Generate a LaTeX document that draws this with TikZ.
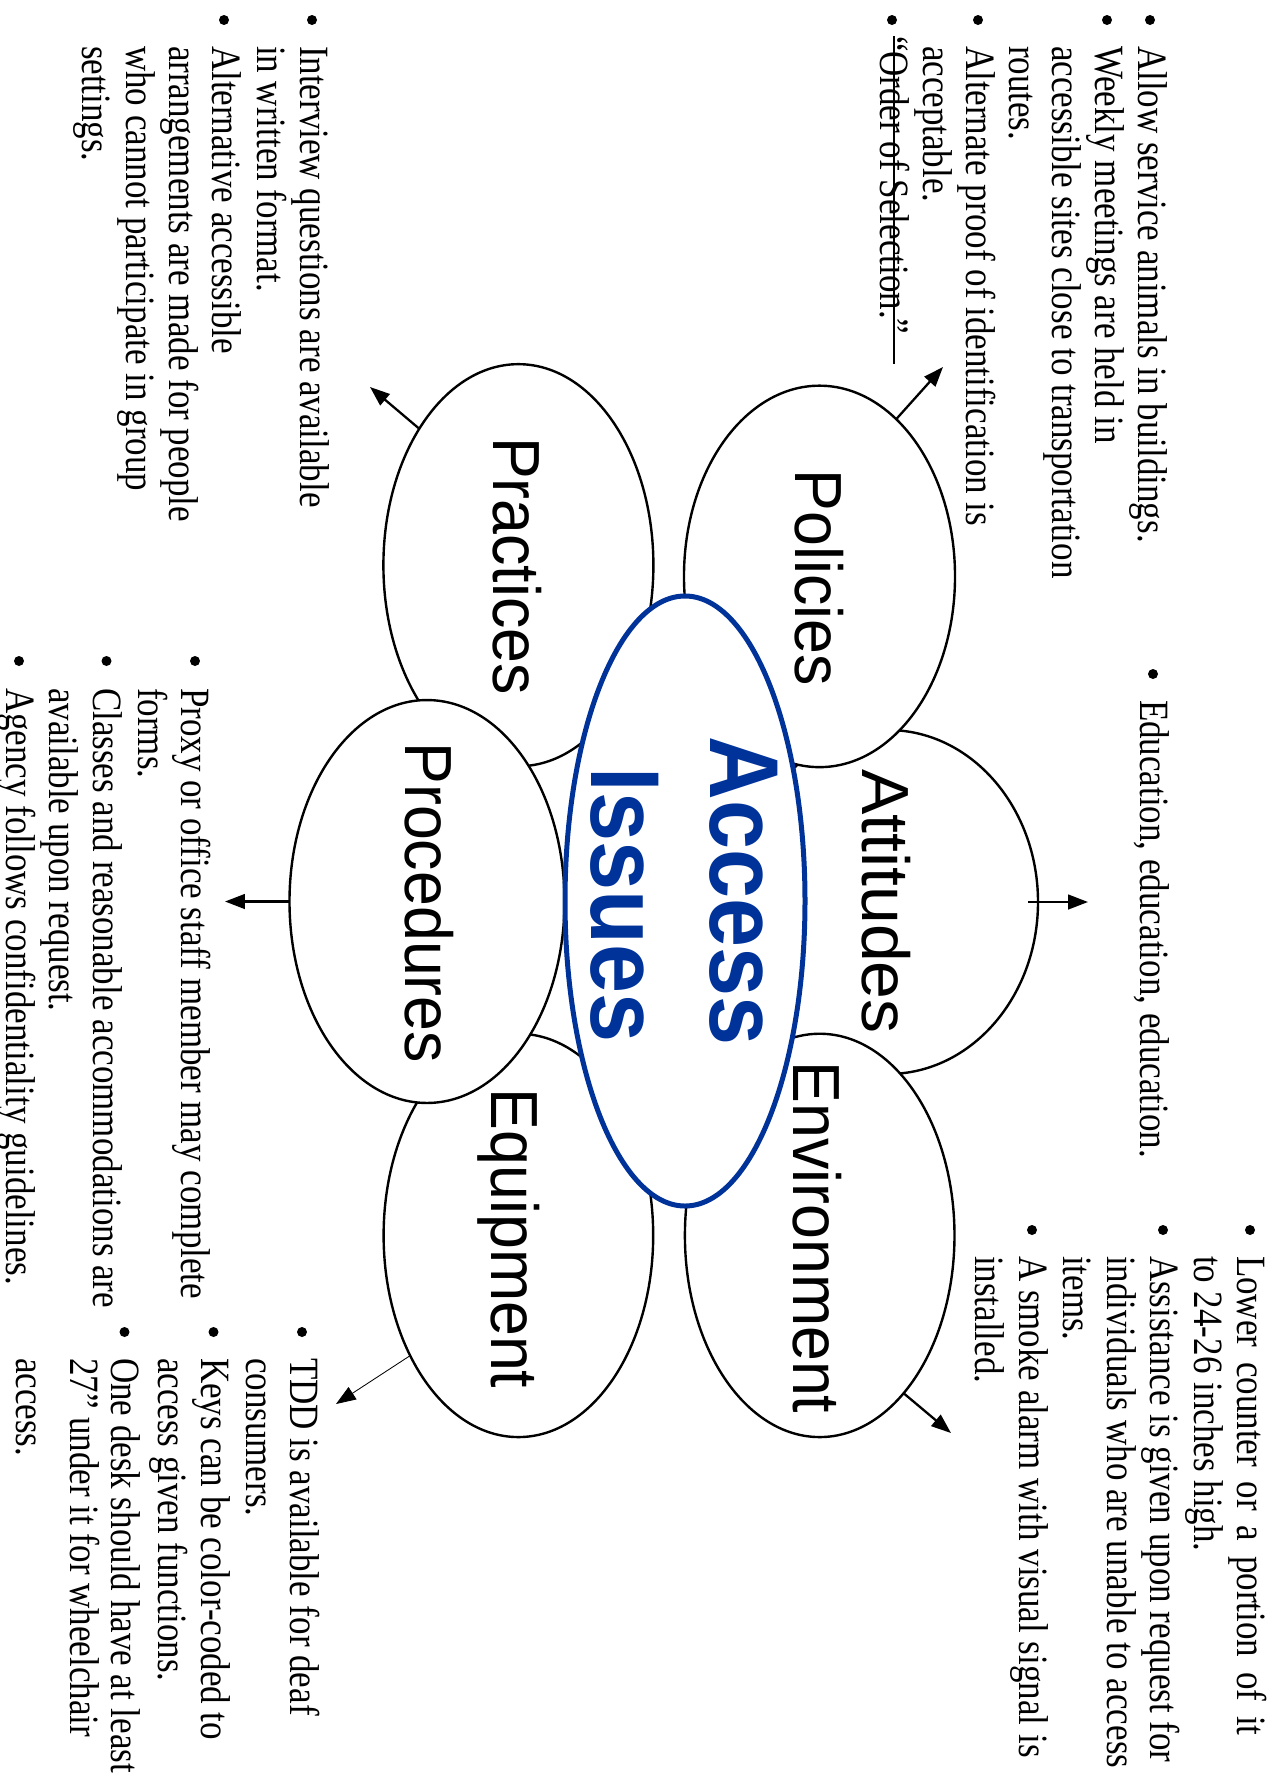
\documentclass[tikz,border=0pt]{standalone}
\usepackage{fontspec}
\setmainfont{Liberation Serif}
\newfontfamily\arialf{Liberation Sans}
\usepackage{graphicx}
\usetikzlibrary{shapes.geometric,arrows.meta}
\definecolor{accblue}{RGB}{0,51,153}
\newcommand\tx[1]{\scalebox{0.84}[1]{#1}}
\newcommand\jx[2]{\scalebox{0.84}[1]{\makebox[#1][s]{#2}}}
\newcommand\lx[1]{\scalebox{0.94}[1]{#1}}
\newcommand\ax[1]{\scalebox{0.9}[1]{#1}}
\begin{document}
\begin{tikzpicture}[x=0.48pt,y=-0.48pt,
  ell/.style={ellipse, draw=black, line width=1.15pt, fill=white, inner sep=0pt, outer sep=0pt},
  tl/.style={rotate=-90, anchor=base west, inner sep=0pt, outer sep=0pt, font=\fontsize{20}{24}\selectfont},
  lab/.style={rotate=-90, anchor=base, inner sep=0pt, outer sep=0pt, font=\arialf\fontsize{32}{38}\selectfont},
  acc/.style={rotate=-90, anchor=base, inner sep=0pt, outer sep=0pt, text=accblue, font=\arialf\bfseries\fontsize{47}{56}\selectfont},
  arr/.style={line width=1.1pt, -{Triangle[length=9.5pt,width=7pt]}},
  bul/.style={fill=black},
  strk/.style={line width=1pt}]

\useasboundingbox[fill=white] (0,0) rectangle (1275,1787);

% back ellipses
\node[ell, minimum width=144pt, minimum height=165.1pt] (att) at (888,902) {};
\node[ell, minimum width=129.6pt, minimum height=193pt] (pra) at (518.4,565.2) {};
\node[ell, minimum width=129.4pt, minimum height=193.6pt] (equ) at (518.4,1235.4) {};
% front ellipses
\node[ell, minimum width=130.1pt, minimum height=183.1pt] (pol) at (819.5,576.4) {};
\node[ell, minimum width=129.4pt, minimum height=193.6pt] (env) at (819.7,1235.4) {};
\node[ell, minimum width=132pt, minimum height=193.4pt] (pro) at (427,901.5) {};
% centre
\node[ell, draw=accblue, line width=2.4pt, minimum width=115.2pt, minimum height=292.8pt] (acc) at (685,901) {};

% labels
\node[lab] (lpol) at (795,577.5) {\lx{Policies}};
\node[lab] (lpra) at (493,566) {\lx{Practices}};
\node[lab] (lpro) at (405,902.7) {\lx{Procedures}};
\node[lab] (latt) at (862.5,901.5) {\scalebox{1.02}[1]{Attitudes}};
\node[lab] (lenv) at (793,1237.5) {\lx{Environment}};
\node[lab] (lequ) at (491.6,1238.6) {\lx{Equipment}};
\node[acc] (lacc) at (710,891) {\ax{Access}};
\node[acc] (liss) at (591.7,905) {\ax{Issues}};

% Policies bullets
\fill[bul] (1150,20) circle (2.4pt);
\fill[bul] (1107,20) circle (2.4pt);
\fill[bul] (978,20) circle (2.4pt);
\fill[bul] (892,20) circle (2.4pt);
\node[tl] (p1) at (1138,46) {\tx{Allow service animals in buildings.}};
\node[tl] (p2) at (1095,46) {\tx{Weekly meetings are held in}};
\node[tl] (p3) at (1052,46) {\tx{accessible sites close to transportation}};
\node[tl] (p4) at (1009,46) {\tx{routes.}};
\node[tl] (p5) at (966,46) {\tx{Alternate proof of identification is}};
\node[tl] (p6) at (923,46) {\tx{acceptable.}};
\node[tl] (p7) at (880,36) {\tx{“Order of Selection.”}};
\coordinate (s1) at (894,36);
\coordinate (s2) at (894,364);
\draw[strk] (s1) -- (s2);

% Practices bullets
\fill[bul] (312,20) circle (2.4pt);
\fill[bul] (224,20) circle (2.4pt);
\node[tl] (q1) at (300,46) {\tx{Interview questions are available}};
\node[tl] (q2) at (257,46) {\tx{in written format.}};
\node[tl] (q3) at (212,46) {\tx{Alternative accessible}};
\node[tl] (q4) at (169,46) {\tx{arrangements are made for people}};
\node[tl] (q5) at (126,46) {\tx{who cannot participate in group}};
\node[tl] (q6) at (82.5,46) {\tx{settings.}};

% Procedures bullets
\fill[bul] (195,661) circle (2.4pt);
\fill[bul] (106.5,661) circle (2.4pt);
\fill[bul] (19,661) circle (2.4pt);
\node[tl] (r1) at (181.7,688) {\tx{Proxy or office staff member may complete}};
\node[tl] (r2) at (138.3,688) {\tx{forms.}};
\node[tl] (r3) at (93.3,688) {\tx{Classes and reasonable accommodations are}};
\node[tl] (r4) at (50,688) {\tx{available upon request.}};
\node[tl] (r5) at (6.7,688) {\tx{Agency follows confidentiality guidelines.}};

% Attitudes bullet
\fill[bul] (1153,674) circle (2.4pt);
\node[tl] (a1) at (1140,700) {\tx{Education, education, education.}};

% Environment bullets
\fill[bul] (1250,1230) circle (2.4pt);
\fill[bul] (1163,1230) circle (2.4pt);
\fill[bul] (1032,1230) circle (2.4pt);
\node[tl] (e1) at (1237,1256) {\jx{274pt}{Lower counter or a portion of it}};
\node[tl] (e2) at (1194,1256) {\tx{to 24-26 inches high.}};
\node[tl] (e3) at (1150,1256) {\tx{Assistance is given upon request for}};
\node[tl] (e4) at (1107,1256) {\tx{individuals who are unable to access}};
\node[tl] (e5) at (1063,1256) {\tx{items.}};
\node[tl] (e6) at (1019,1256) {\tx{A smoke alarm with visual signal is}};
\node[tl] (e7) at (975.5,1256) {\tx{installed.}};

% Equipment bullets
\fill[bul] (302,1332) circle (2.4pt);
\fill[bul] (213.5,1332) circle (2.4pt);
\fill[bul] (124.5,1332) circle (2.4pt);
\node[tl] (g1) at (290,1358) {\tx{TDD is available for deaf}};
\node[tl] (g2) at (246.7,1358) {\tx{consumers.}};
\node[tl] (g3) at (201.7,1358) {\tx{Keys can be color-coded to}};
\node[tl] (g4) at (158.3,1358) {\tx{access given functions.}};
\node[tl] (g5) at (111.7,1358) {\tx{One desk should have at least}};
\node[tl] (g6) at (70,1358) {\tx{27” under it for wheelchair}};
\node[tl] (g7) at (16.7,1358) {\tx{access.}};

% arrows
\coordinate (polT) at (943,367);
\draw[arr] (pol.64.7) -- (polT);
\coordinate (praT) at (370,387);
\draw[arr] (pra.126.5) -- (praT);
\coordinate (attT) at (1088,902);
\draw[arr] ([xshift=-4.8pt]att.east) -- (attT);
\coordinate (proT) at (225,901.5);
\draw[arr] (pro.west) -- (proT);
\coordinate (envT) at (951,1433);
\draw[arr] (env.-62.9) -- (envT);
\coordinate (equT) at (336,1404);
\draw[arr, line width=0.4pt] (equ.-132) -- (equT);
\end{tikzpicture}
\end{document}
